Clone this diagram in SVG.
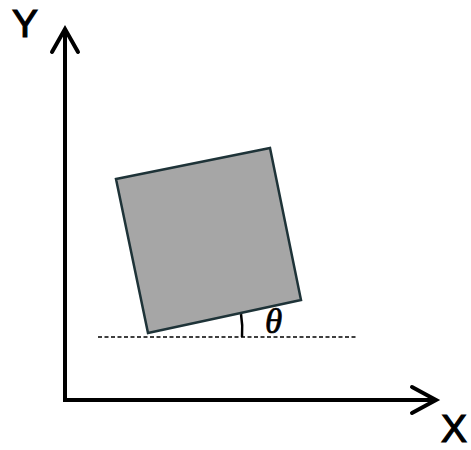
<svg xmlns="http://www.w3.org/2000/svg" width="471" height="450" viewBox="0 0 471 450">
<style>
.axis{stroke:#000;stroke-width:4;fill:none;stroke-linecap:butt}
.head{stroke:#000;stroke-width:4;fill:none;stroke-linecap:round;stroke-linejoin:miter}
.lbl{font-family:"Liberation Sans",Arial,sans-serif;font-size:39px;fill:#000;stroke:#000;stroke-width:1.2}
</style>
<rect width="471" height="450" fill="#fff"/>
<g id="connectors">
<line class="axis" x1="65" y1="402" x2="65" y2="29"/>
<polyline class="head" points="52,52 65,29 78,52"/>
<line class="axis" x1="63" y1="400" x2="436" y2="400"/>
<polyline class="head" points="412,387 436,400 412,413"/>
<line x1="98" y1="337" x2="357" y2="337" stroke="#000" stroke-width="1.3" stroke-dasharray="4,2.5"/>
<path d="M241,314 A95,95 0 0 1 242,337" stroke="#000" stroke-width="2.5" fill="none"/>
</g>
<g id="square">
<polygon points="116,179 270,148 301,300 148,333" fill="#a6a6a6" stroke="#1e3338" stroke-width="2.5" stroke-linejoin="miter"/>
</g>
<g id="labels">
<text class="lbl" x="12" y="37">Y</text>
<text class="lbl" x="441" y="442">X</text>
<text x="265" y="333" font-family="Liberation Serif,serif" font-style="italic" font-size="35" fill="#000" stroke="#000" stroke-width="0.7">θ</text>
</g>
</svg>
